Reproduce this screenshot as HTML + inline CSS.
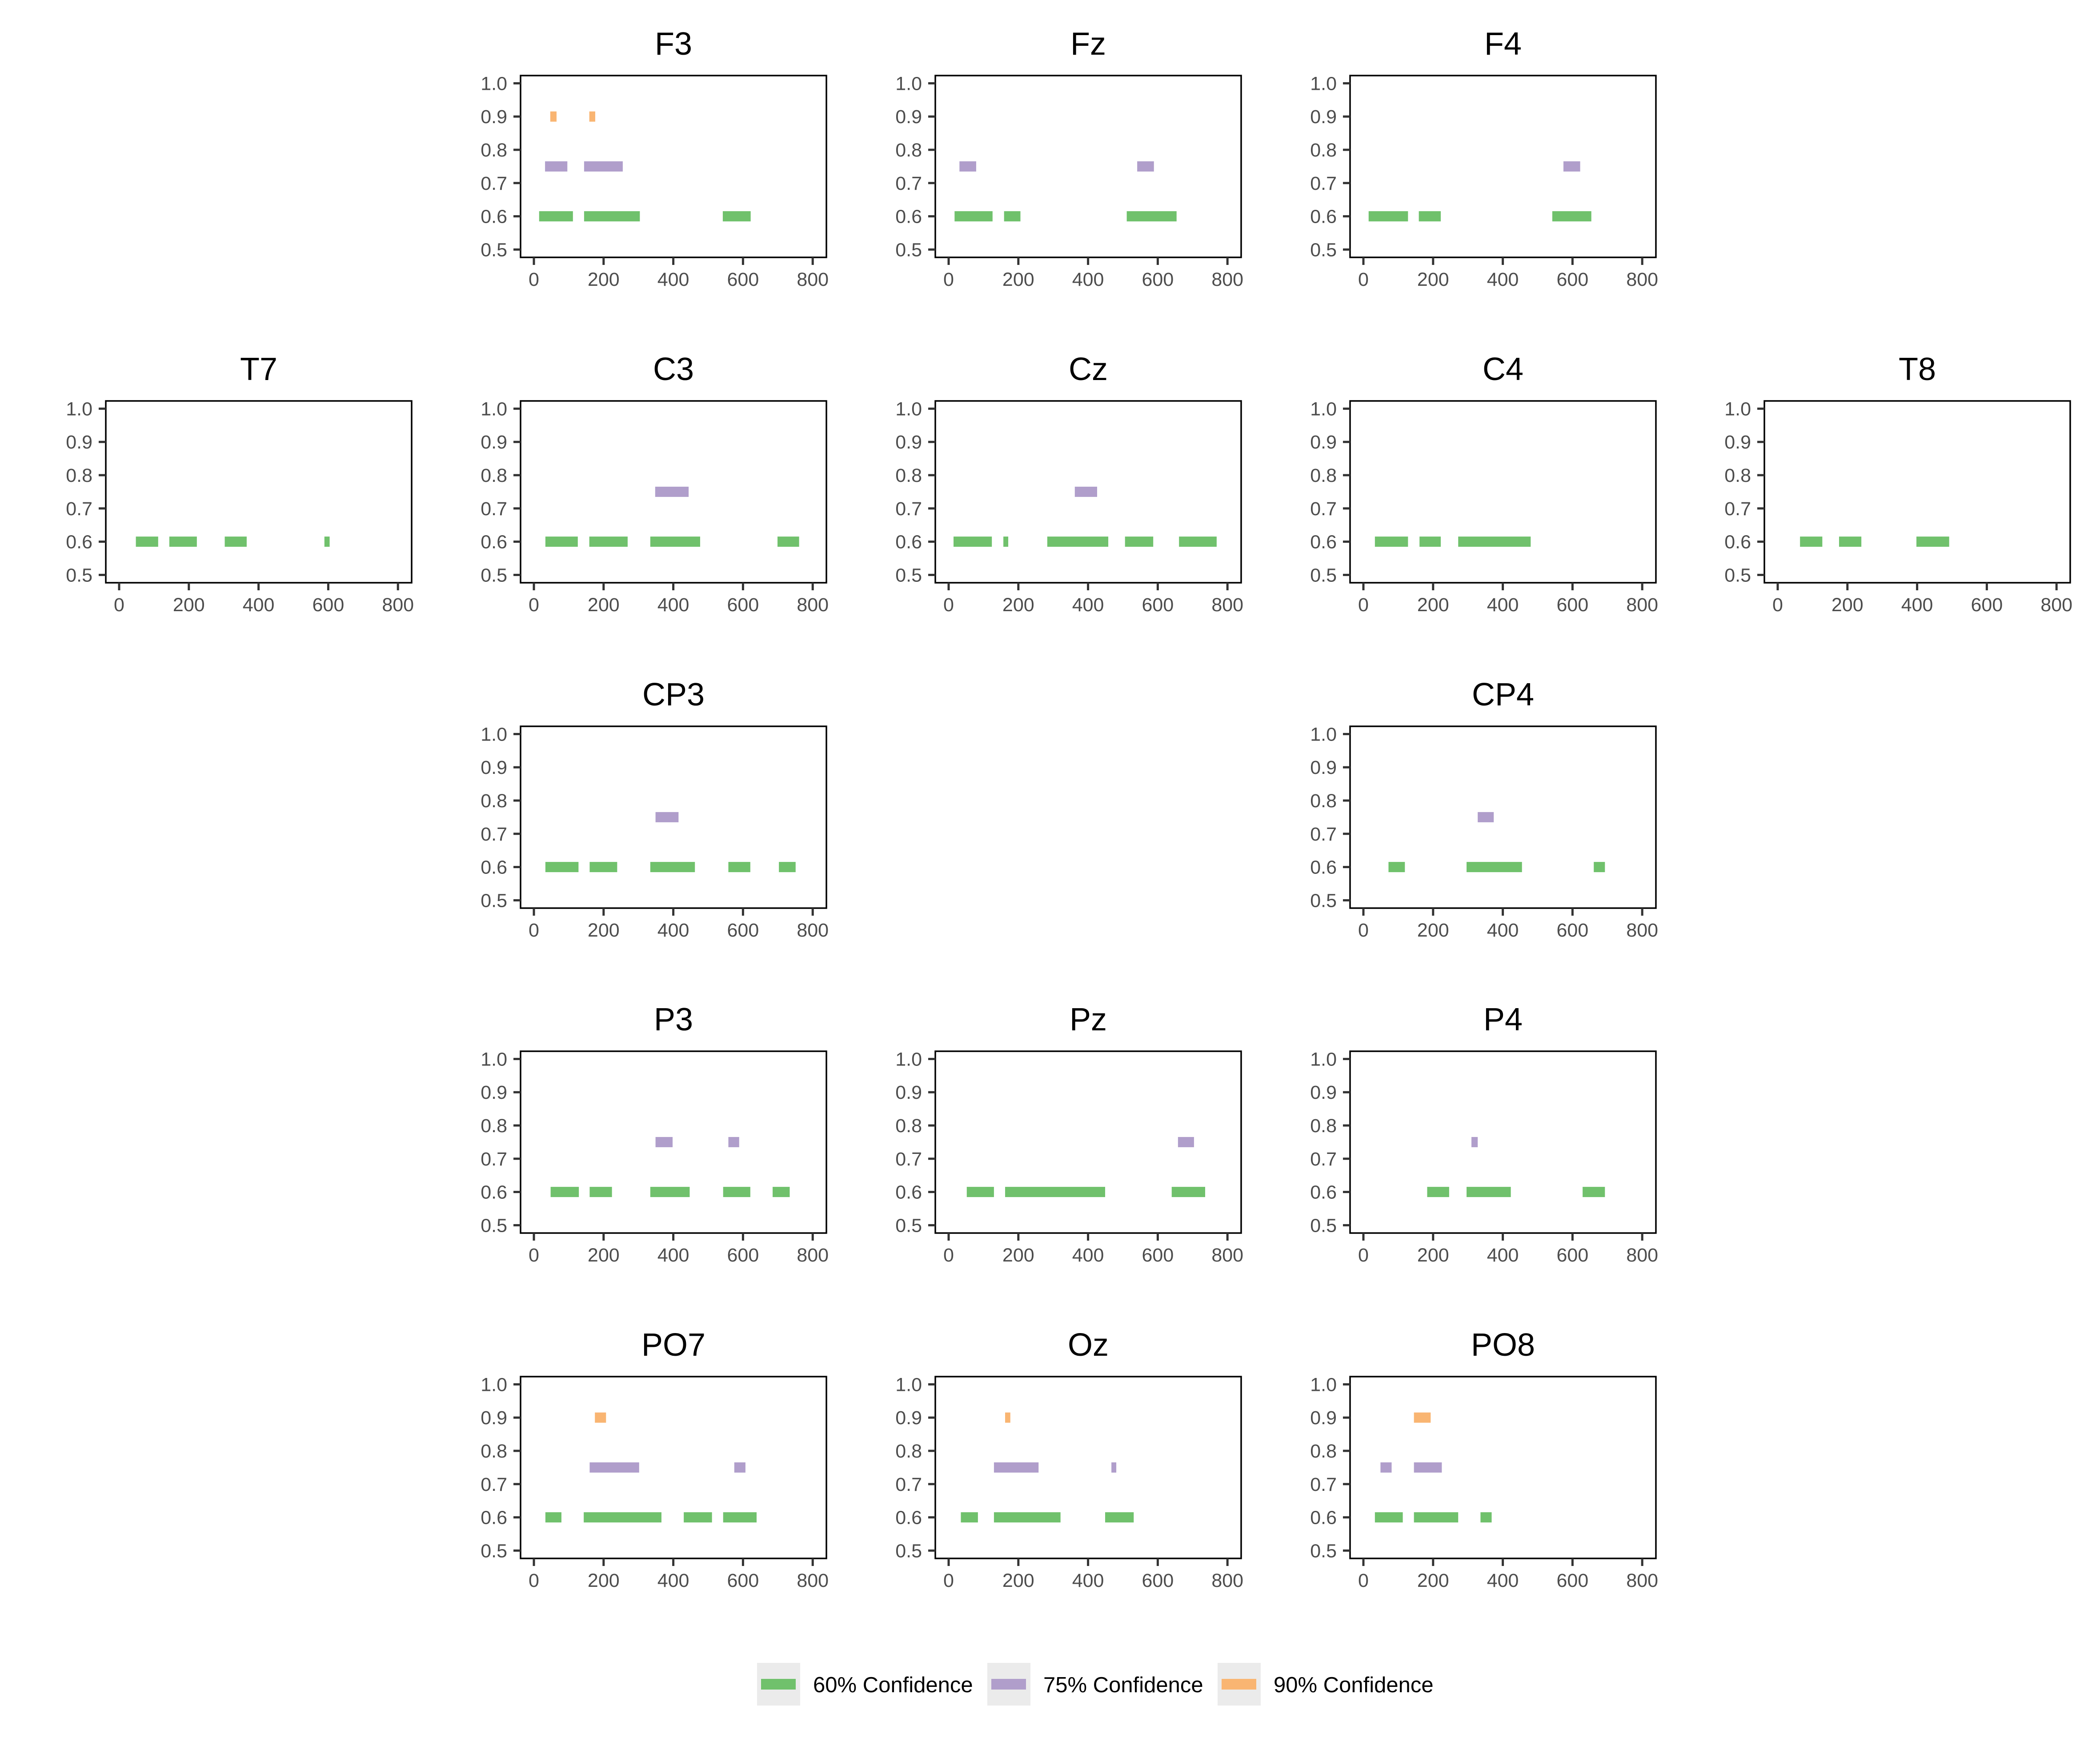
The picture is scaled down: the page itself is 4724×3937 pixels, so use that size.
<!DOCTYPE html>
<html><head><meta charset="utf-8">
<style>
html,body{margin:0;padding:0;background:#fff;}
svg{display:block;font-family:"Liberation Sans",Arial,sans-serif;}
</style></head>
<body>
<svg id="chart" width="4724" height="3937" viewBox="0 0 4724 3937" xmlns="http://www.w3.org/2000/svg">
<rect width="4724" height="3937" fill="#fff"/>
<g>
  <g>
    <rect x="1703" y="3741" width="97" height="96" fill="#ebebeb"/>
    <rect x="1712" y="3777" width="78" height="24" fill="#70c16c"/>
    <text x="1829" y="3807" font-size="49" fill="#000">60% Confidence</text>
  </g>
  <g>
    <rect x="2221" y="3741" width="97" height="96" fill="#ebebeb"/>
    <rect x="2230" y="3777" width="78" height="24" fill="#b09ecb"/>
    <text x="2347" y="3807" font-size="49" fill="#000">75% Confidence</text>
  </g>
  <g>
    <rect x="2739" y="3741" width="97" height="96" fill="#ebebeb"/>
    <rect x="2748" y="3777" width="78" height="24" fill="#f9b572"/>
    <text x="2865" y="3807" font-size="49" fill="#000">90% Confidence</text>
  </g>
</g>
</svg>
<script>
const panelNames = ["F3","Fz","F4","T7","C3","Cz","C4","T8","CP3","CP4","P3","Pz","P4","PO7","Oz","PO8"];
const panelCols = [1,2,3,0,1,2,3,4,1,3,1,2,3,1,2,3];
const panelRows = [0,0,0,1,1,1,1,1,2,2,3,3,3,4,4,4];
const levels = [0.6, 0.75, 0.9];
const xTicks = [0,200,400,600,800];
const yTicks = [0.5,0.6,0.7,0.8,0.9,1.0];
const yTickLabels = ["0.5","0.6","0.7","0.8","0.9","1.0"];
// intervals [start,end] per panel for 60%, 75%, 90%
const conf60 = [
 [[15,112],[144,304],[542,622]],
 [[17,126],[159,206],[511,654]],
 [[15,128],[159,222],[542,654]],
 [[48,112],[144,223],[303,366],[589,604]],
 [[33,126],[159,269],[334,477],[699,761]],
 [[14,124],[157,171],[283,458],[506,587],[661,769]],
 [[33,128],[161,222],[272,480]],
 [[64,128],[176,240],[398,492]],
 [[33,128],[160,239],[334,462],[558,621],[703,751]],
 [[72,119],[296,455],[661,693]],
 [[48,129],[160,224],[334,447],[543,621],[685,734]],
 [[52,130],[162,449],[640,736]],
 [[183,246],[296,423],[629,693]],
 [[33,79],[143,366],[430,511],[543,639]],
 [[35,84],[130,321],[449,531]],
 [[33,113],[145,272],[336,368]]
];
const conf75 = [
 [[32,96],[144,255]],
 [[31,79],[541,589]],
 [[574,622]],
 [],
 [[348,444]],
 [[362,426]],
 [],
 [],
 [[349,415]],
 [[328,374]],
 [[349,398],[558,589]],
 [[658,704]],
 [[310,328]],
 [[160,302],[575,607]],
 [[130,258],[467,481]],
 [[49,81],[145,225]]
];
const conf90 = [
 [[47,65],[159,176]],
 [],[],[],[],[],[],[],[],[],[],[],[],
 [[175,207]],
 [[162,177]],
 [[145,193]]
];
const seriesColors = ["#70c16c","#b09ecb","#f9b572"];
const NS = "http://www.w3.org/2000/svg";
const svg = document.getElementById("chart");
const colLeft = [238,1171,2104,3037,3969];
const rowTop = [170,902,1634,2365,3097];
const W = 688, H = 409;
function mk(tag, attrs, parent){const e=document.createElementNS(NS,tag);for(const k in attrs)e.setAttribute(k,attrs[k]);parent.appendChild(e);return e;}
const allSeries = [conf60, conf75, conf90];
panelNames.forEach((name,i)=>{
  const L = colLeft[panelCols[i]], T = rowTop[panelRows[i]];
  const xs = v => L + 30 + v*0.784;
  const ys = v => T + 17.4 + (1.0 - v)*748;
  const g = mk("g",{},svg);
  
  
  const title = mk("text",{x:L+W/2,y:T-47,"font-size":72,"text-anchor":"middle",fill:"#000"},g);
  
  
  title.textContent = name;
  allSeries.forEach((ser,s)=>{
    ser[i].forEach(iv=>{
      const r = mk("rect",{x:xs(iv[0]),y:ys(levels[s])-11.5,width:xs(iv[1])-xs(iv[0]),height:23,fill:seriesColors[s]},g);
      
      
    });
  });
  const frame = mk("rect",{x:L,y:T,width:W,height:H,fill:"none",stroke:"#000","stroke-width":3.5},g);
  
  
  yTicks.forEach((v,k)=>{
    mk("line",{x1:L-16,x2:L,y1:ys(v),y2:ys(v),stroke:"#333","stroke-width":5},g);
    const t = mk("text",{x:L-30,y:ys(v)+15,"font-size":43,"text-anchor":"end",fill:"#4d4d4d"},g);
    
    
    t.textContent = yTickLabels[k];
  });
  xTicks.forEach(v=>{
    mk("line",{x1:xs(v),x2:xs(v),y1:T+H,y2:T+H+17,stroke:"#333","stroke-width":5},g);
    const t = mk("text",{x:xs(v),y:T+H+64,"font-size":43,"text-anchor":"middle",fill:"#4d4d4d"},g);
    
    
    t.textContent = String(v);
  });
});
</script>
</body></html>
